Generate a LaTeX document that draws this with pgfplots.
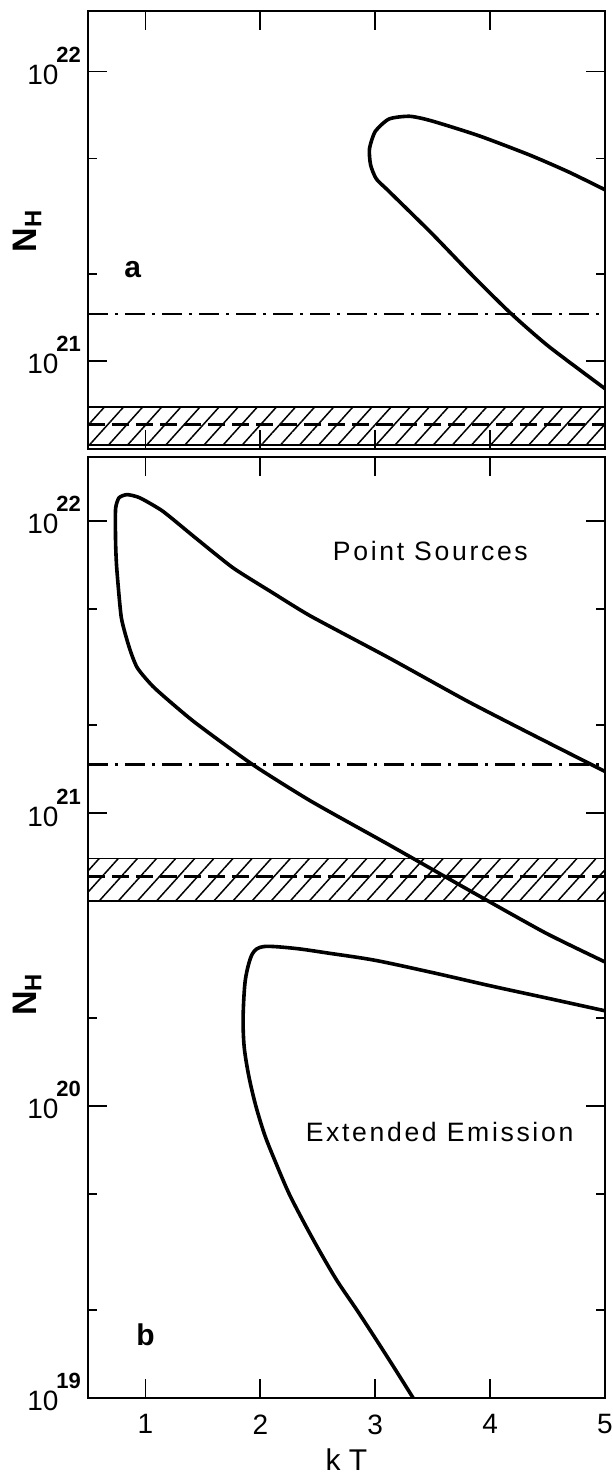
\documentclass[border=0pt]{standalone}
\usepackage{fontspec}
\setmainfont{Liberation Sans}
\newfontfamily\labfont[LetterSpace=10]{Liberation Sans}
\usepackage{pgfplots}
\pgfplotsset{compat=1.18}
\usetikzlibrary{patterns.meta}

\newcommand{\tl}[1]{10\kern-1pt\raisebox{11pt}{\fontsize{11}{11}\selectfont\bfseries #1}}

\pgfplotsset{panel/.style={
  scale only axis, width=258.5pt,
  xmin=0.5, xmax=5,
  axis line style={line width=1.1pt},
  every tick/.style={line width=0.9pt, black},
  major tick length=9.5pt, minor tick length=4.5pt,
  xtick={1,2,3,4,5},
  tick label style={font=\fontsize{14}{14}\selectfont},
  yticklabel style={yshift=2.8pt},
  xticklabel style={yshift=-4.8pt},
  ylabel={\bfseries N\textsubscript{H}},
  clip=true,
}}

\begin{document}
\begin{tikzpicture}
\useasboundingbox (0,0) rectangle (306.5pt,-739pt);

% ---------- panel a ----------
\begin{axis}[ymode=log, panel,
  at={(44pt,-5.5pt)}, anchor=north west,
  height=219pt,
  ymin=4.95e20, ymax=1.62e22,
  ytick={1e21,1e22}, yticklabels={\tl{21},\tl{22}},
  minor ytick={2e21,5e21},
  xticklabels={,,,,},
  ylabel style={font=\fontsize{17}{17}\selectfont, anchor=center, at={(axis description cs:-0.118,0.498)}},
]
\addplot[draw=black, line width=0.8pt, pattern={Lines[angle=48,distance=7.1pt,line width=0.75pt]}]
  coordinates {(0.5,6.9e20) (5,6.9e20) (5,5.1e20) (0.5,5.1e20) (0.5,6.9e20)};
\addplot[line width=1.5pt, dash pattern=on 8.5pt off 3.5pt] coordinates {(0.5,6.0e20) (5,6.0e20)};
\addplot[line width=1.4pt, dash pattern=on 10pt off 3.5pt on 1.5pt off 3.5pt] coordinates {(0.5,1.45e21) (5,1.45e21)};
\addplot[line width=1.8pt, smooth, tension=0.4] coordinates {
 (5.0,3.9e21) (4.68,4.5e21) (4.34,5.15e21) (3.90,6.0e21) (3.49,6.75e21)
 (3.30,7.0e21) (3.12,6.85e21) (3.00,6.2e21) (2.95,5.4e21) (2.96,4.75e21)
 (3.01,4.25e21) (3.12,3.85e21) (3.49,2.76e21) (3.83,2.0e21) (4.17,1.47e21)
 (4.51,1.12e21) (5.0,8.0e20)};
\node[font=\bfseries\fontsize{15}{15}\selectfont] at (axis cs:0.89,2.07e21) {a};
\end{axis}

% ---------- panel b ----------
\begin{axis}[ymode=log, panel,
  at={(44pt,-228.5pt)}, anchor=north west,
  height=470.5pt,
  ymin=1e19, ymax=1.655e22,
  ytick={1e19,1e20,1e21,1e22}, yticklabels={\tl{19},\tl{20},\tl{21},\tl{22}},
  minor ytick={2e19,5e19,2e20,5e20,2e21,5e21},
  xticklabels={1,2,3,4,5},
  xlabel={k T},
  xlabel style={font=\fontsize{15}{15}\selectfont, at={(axis description cs:0.5,-0.066)}, anchor=center},
  ylabel style={font=\fontsize{17}{17}\selectfont, anchor=center, at={(axis description cs:-0.118,0.429)}},
]
\addplot[draw=black, line width=0.8pt, pattern={Lines[angle=48,distance=7.1pt,line width=0.75pt]}]
  coordinates {(0.5,7.0e20) (5,7.0e20) (5,5.0e20) (0.5,5.0e20) (0.5,7.0e20)};
\addplot[line width=1.5pt, dash pattern=on 8.5pt off 3.5pt] coordinates {(0.5,6.1e20) (5,6.1e20)};
\addplot[line width=1.4pt, dash pattern=on 10pt off 3.5pt on 1.5pt off 3.5pt] coordinates {(0.5,1.47e21) (5,1.47e21)};
% point sources contour
\addplot[line width=1.8pt, smooth, tension=0.35] coordinates {
 (5.0,1.39e21) (4.40,1.83e21) (3.80,2.42e21) (3.12,3.40e21) (2.44,4.72e21)
 (2.10,5.7e21) (1.76,6.92e21) (1.42,8.85e21) (1.15,1.08e22)
 (0.95,1.20e22) (0.84,1.23e22) (0.77,1.20e22) (0.74,1.10e22) (0.74,8.5e21)
 (0.75,6.9e21) (0.79,4.67e21) (0.86,3.68e21) (0.93,3.14e21) (1.08,2.68e21)
 (1.42,2.06e21) (1.93,1.47e21) (2.44,1.10e21) (3.12,7.8e20) (3.80,5.5e20)
 (4.48,3.9e20) (5.0,3.1e20)};
% extended emission contour
\addplot[line width=1.8pt, smooth, tension=0.5] coordinates {
 (3.33,1.0e19) (3.17,1.26e19) (3.01,1.58e19) (2.84,2.0e19) (2.67,2.51e19)
 (2.52,3.16e19) (2.38,3.98e19) (2.25,5.0e19) (2.14,6.3e19) (2.04,7.9e19)
 (1.96,1.0e20) (1.90,1.26e20) (1.86,1.58e20) (1.85,2.0e20) (1.87,2.7e20)
 (1.93,3.3e20) (2.03,3.5e20) (2.30,3.45e20) (2.60,3.32e20) (3.00,3.14e20)
 (3.50,2.85e20) (4.00,2.57e20) (4.50,2.33e20) (5.0,2.11e20)};
\node[font=\labfont\fontsize{13.3}{13.3}\selectfont] at (axis cs:3.48,7.9e21) {Point Sources};
\node[font=\labfont\fontsize{13.3}{13.3}\selectfont] at (axis cs:3.56,8.1e19) {Extended Emission};
\node[font=\bfseries\fontsize{15}{15}\selectfont] at (axis cs:1.0,1.65e19) {b};
\end{axis}
\end{tikzpicture}
\end{document}
